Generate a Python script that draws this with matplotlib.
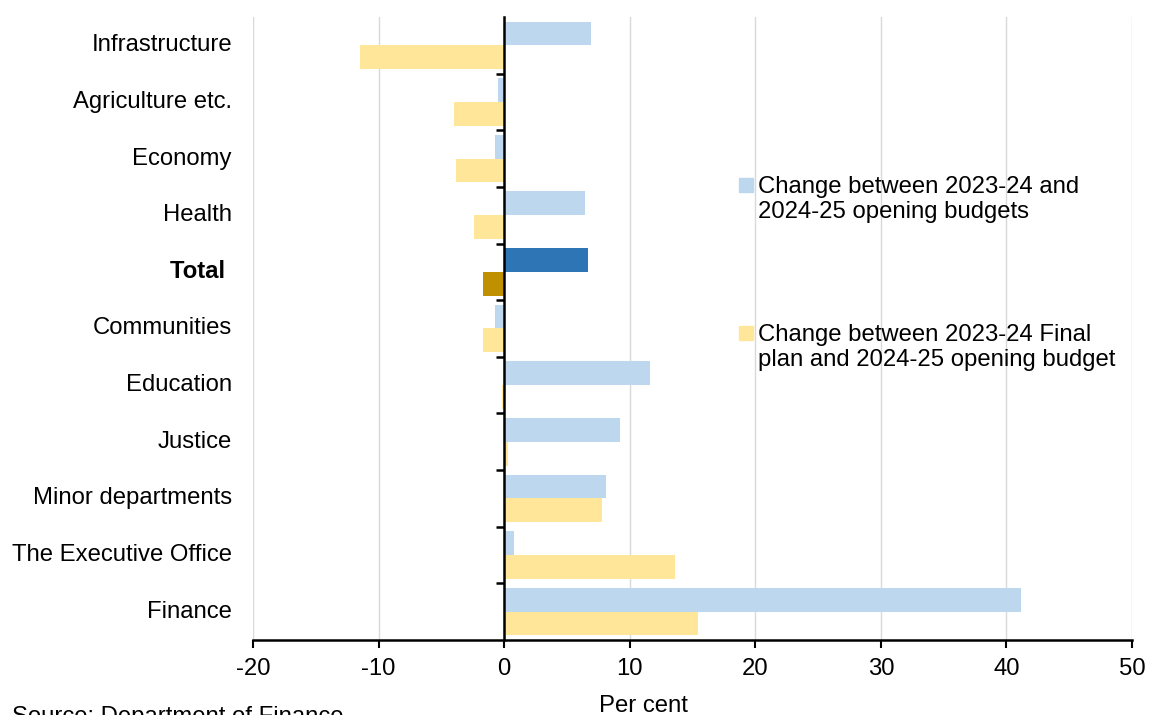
import matplotlib.pyplot as plt
from matplotlib.patches import Rectangle
import numpy as np

plt.rcParams['font.family'] = ['Liberation Sans', 'DejaVu Sans']

# --- data ---
categories = ['Infrastructure', 'Agriculture etc.', 'Economy', 'Health', 'Total',
              'Communities', 'Education', 'Justice', 'Minor departments',
              'The Executive Office', 'Finance']
opening_change = [6.9, -0.5, -0.75, 6.4, 6.7, -0.7, 11.6, 9.2, 8.1, 0.8, 41.2]
final_plan_change = [-11.5, -4.0, -3.8, -2.4, -1.7, -1.65, -0.2, 0.3, 7.8, 13.6, 15.4]
x_ticks = [-20, -10, 0, 10, 20, 30, 40, 50]

legend_labels = ['Change between 2023-24 and\n2024-25 opening budgets',
                 'Change between 2023-24 Final\nplan and 2024-25 opening budget']

# --- colours ---
BLUE = '#BDD7EE'
YELLOW = '#FFE699'
BLUE_TOTAL = '#2E75B6'
YELLOW_TOTAL = '#BF9000'

FS = 17.2
W, H = 1149, 715
fig = plt.figure(figsize=(W / 100, H / 100), dpi=100)
ax = fig.add_axes([253 / W, 1 - 640 / H, (1132 - 253) / W, (640 - 17) / H])

n = len(categories)
y = np.arange(n)
bar_h = 0.42
blue_cols = [BLUE_TOTAL if c == 'Total' else BLUE for c in categories]
yellow_cols = [YELLOW_TOTAL if c == 'Total' else YELLOW for c in categories]

ax.barh(y - bar_h / 2, opening_change, height=bar_h, color=blue_cols, zorder=2)
ax.barh(y + bar_h / 2, final_plan_change, height=bar_h, color=yellow_cols, zorder=2)

ax.set_ylim(n - 0.5, -0.5)
ax.set_xlim(-20, 50)
ax.set_xticks(x_ticks)
ax.set_xticklabels([str(t) for t in x_ticks], fontsize=FS)
ax.tick_params(axis='x', direction='out', length=6, width=1.5, pad=7)
ax.xaxis.grid(True, color='#d9d9d9', linewidth=1, zorder=0)
ax.set_axisbelow(True)

# y axis sits at zero, ticks between categories
ax.spines['left'].set_position(('data', 0))
ax.spines['left'].set_linewidth(1.8)
ax.spines['bottom'].set_linewidth(1.8)
ax.spines['top'].set_visible(False)
ax.spines['right'].set_visible(False)
ax.set_yticks([])
ax.set_yticks(np.arange(n - 1) + 0.5, minor=True)
ax.tick_params(axis='y', which='minor', direction='out', length=6, width=1.8, labelleft=False)

for i, c in enumerate(categories):
    label = 'Total ' if c == 'Total' else c
    ax.text(-0.024, i, label, transform=ax.get_yaxis_transform(), ha='right', va='center',
            fontsize=FS, fontweight='bold' if c == 'Total' else 'normal')

# legend drawn by hand to keep the square on the first line
for (top, col), lab in zip([(178, BLUE), (326, YELLOW)], legend_labels):
    fig.add_artist(Rectangle((739 / W, 1 - (top + 14) / H), 14 / W, 14 / H,
                             transform=fig.transFigure, color=col))
    fig.text(758 / W, 1 - (top - 2) / H, lab, fontsize=FS, va='top', ha='left',
             linespacing=1.2)

fig.text(643 / W, 1 - 695 / H, 'Per cent', fontsize=FS, ha='center', va='top')
fig.text(12 / W, 1 - 706 / H, 'Source: Department of Finance', fontsize=FS, ha='left', va='top')

fig.savefig('out.png', dpi=100)
